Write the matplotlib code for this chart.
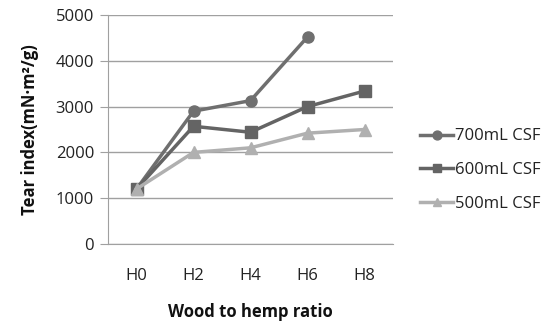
import matplotlib
matplotlib.use("Agg")
import matplotlib.pyplot as plt

categories = ["H0", "H2", "H4", "H6", "H8"]
s700 = [1200, 2900, 3130, 4520]
s600 = [1200, 2570, 2440, 3000, 3340]
s500 = [1200, 2000, 2100, 2420, 2500]
labels = ["700mL CSF", "600mL CSF", "500mL CSF"]
yticks = [0, 1000, 2000, 3000, 4000, 5000]

plt.rcParams['font.family'] = ['Open Sans', 'DejaVu Sans']
fig = plt.figure(figsize=(5.52, 3.25), dpi=100)
ax = fig.add_axes([108/552, 81/325, 285/552, 229/325])

col700 = "#6f6f6f"
col600 = "#646464"
col500 = "#b0b0b0"
lw = 2.5
fs = 12
h700, = ax.plot(range(len(s700)), s700, color=col700, lw=lw, marker="o", ms=8, label=labels[0])
h600, = ax.plot(range(len(s600)), s600, color=col600, lw=lw, marker="s", ms=8, label=labels[1])
h500, = ax.plot(range(len(s500)), s500, color=col500, lw=lw, marker="^", ms=8, label=labels[2])

ax.set_xlim(-0.5, len(categories) - 0.5)
ax.set_ylim(0, 5000)
ax.set_xticks(range(len(categories)))
ax.set_xticklabels(categories)
ax.set_yticks(yticks)
ax.set_yticklabels([str(v) for v in yticks])
ax.grid(axis="y", color="#a0a0a0", lw=1)
ax.set_axisbelow(True)
for s in ["top", "right"]:
    ax.spines[s].set_visible(False)
ax.spines["left"].set_color("#a0a0a0")
ax.spines["bottom"].set_color("#a0a0a0")
ax.tick_params(axis="y", length=6, color="#a0a0a0", labelsize=fs, labelcolor="#222222", pad=4)
ax.tick_params(axis="x", length=0, labelsize=fs, labelcolor="#222222", pad=17)

ax.set_xlabel("Wood to hemp ratio", fontsize=fs, fontweight="bold", labelpad=14, color="#111111")
ax.set_ylabel("Tear index(mN·m²/g)", fontsize=fs, fontweight="bold", labelpad=12, color="#111111")

leg = fig.legend(handles=[h700, h600, h500], loc="center left", bbox_to_anchor=(405/552, 1 - 170/325),
                 frameon=False, fontsize=fs, handlelength=2.0, handletextpad=0.1,
                 labelspacing=1.05, markerscale=0.8)
for t in leg.get_texts():
    t.set_color("#222222")

fig.savefig("out.png", dpi=100)
